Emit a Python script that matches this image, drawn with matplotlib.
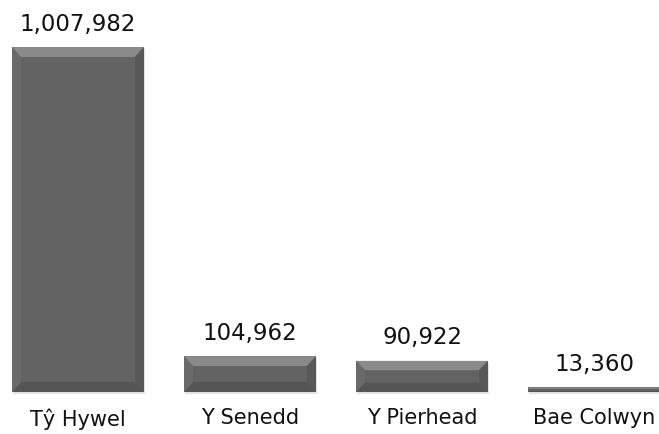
import matplotlib
matplotlib.use("Agg")
import matplotlib.pyplot as plt
from matplotlib.patches import Polygon, Rectangle

categories = ["Tŷ Hywel", "Y Senedd", "Y Pierhead", "Bae Colwyn"]
values = [1007982, 104962, 90922, 13360]

W, H, DPI = 659, 435, 100
fig = plt.figure(figsize=(W / DPI, H / DPI), dpi=DPI)
ax = fig.add_axes([0, 0, 1, 1])

# pixel geometry -> data limits
px_per_cat = 172.0
x0_px = 78.0
base_px_from_bottom = 42.0
px_per_val = 345.0 / 1007982.0
ax.set_xlim(-x0_px / px_per_cat, (W - x0_px) / px_per_cat)
ax.set_ylim(-base_px_from_bottom / px_per_val, (H - base_px_from_bottom) / px_per_val)
ax.axis("off")

bar_w = 132.0 / px_per_cat
bx = 9.0 / px_per_cat       # bevel horizontal size (data units)
by_full = 10.0 / px_per_val  # bevel vertical size (data units)

main = "#636363"
top_c = "#8a8a8a"
side_l = "#6a6a6a"
side_r = "#585858"
bot_c = "#555555"

for i, v in enumerate(values):
    l = i - bar_w / 2
    r = i + bar_w / 2
    t = v
    b = 0
    by = min(by_full, v * 0.3)
    bxx = min(bx, by * px_per_val / px_per_cat)
    # shadow
    ax.add_patch(Rectangle((l + 1 / px_per_cat, b - 2 / px_per_val), bar_w, v,
                           facecolor="#e2e2e2", edgecolor="none", zorder=1))
    ax.add_patch(Rectangle((l, b), bar_w, v, facecolor=main, edgecolor="none", zorder=2))
    # bevels
    ax.add_patch(Polygon([(l, t), (r, t), (r - bxx, t - by), (l + bxx, t - by)],
                         closed=True, facecolor=top_c, edgecolor="none", zorder=3))
    ax.add_patch(Polygon([(l, b), (r, b), (r - bxx, b + by), (l + bxx, b + by)],
                         closed=True, facecolor=bot_c, edgecolor="none", zorder=3))
    ax.add_patch(Polygon([(l, t), (l + bxx, t - by), (l + bxx, b + by), (l, b)],
                         closed=True, facecolor=side_l, edgecolor="none", zorder=3))
    ax.add_patch(Polygon([(r, t), (r - bxx, t - by), (r - bxx, b + by), (r, b)],
                         closed=True, facecolor=side_r, edgecolor="none", zorder=3))
    ax.annotate(f"{v:,}", (i, v), xytext=(0, 9), textcoords="offset points",
                ha="center", va="bottom", fontsize=16.5, color="#111111",
                family="DejaVu Sans")
    ax.annotate(categories[i], (i, 0), xytext=(0, -11), textcoords="offset points",
                ha="center", va="top", fontsize=15, color="#111111",
                family="DejaVu Sans")

fig.savefig("out.png", dpi=DPI)
